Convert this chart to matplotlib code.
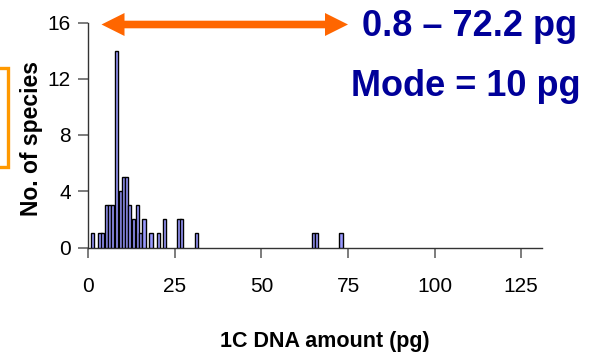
import matplotlib.pyplot as plt
from matplotlib.patches import Polygon, Rectangle

# genome size bins (pg) and species counts
dna_amount = [1.2, 3.4, 4.2, 5.3, 6.2, 7.0, 8.2, 9.3, 10.2, 11.1, 12.0, 13.1,
              14.2, 15.2, 16.1, 18.1, 20.3, 22.0, 26.2, 27.0, 31.2, 65.1, 65.9, 73.0]
n_species = [1, 1, 1, 3, 3, 3, 14, 4, 5, 5, 3, 2, 3, 1, 2, 1, 1, 2, 2, 2, 1, 1, 1, 1]

x_ticks = [0, 25, 50, 75, 100, 125]
y_ticks = [0, 4, 8, 12, 16]
range_text = "0.8 \u2013 72.2 pg"
mode_text = "Mode = 10 pg"

W, H = 594, 354


def fx(px):
    return px / W


def fy(py):
    # pixel rows measured from the top
    return 1 - py / H


plt.rcParams['font.family'] = 'Liberation Sans'

fig = plt.figure(figsize=(5.94, 3.54), dpi=100)
ax = fig.add_axes([fx(87.5), fy(247.5), fx(542) - fx(87.5), fy(22.5) - fy(247.5)])

ax.bar(dna_amount, n_species, width=0.95, color='#9999FF', edgecolor='black',
       linewidth=1.0, zorder=3)

ax.set_xlim(-0.2, 131)
ax.set_ylim(0, 16)
ax.set_xticks(x_ticks)
ax.set_yticks(y_ticks)
for s in ['top', 'right']:
    ax.spines[s].set_visible(False)
for s in ['left', 'bottom']:
    ax.spines[s].set_color('#333333')
    ax.spines[s].set_linewidth(1.0)
ax.tick_params(direction='out', length=7, width=1.2, color='#666666',
               labelsize=15, pad=5)
ax.tick_params(axis='x', pad=14)

fig.text(fx(325), fy(341), '1C DNA amount (pg)', fontsize=15.5,
         fontweight='bold', ha='center', va='center')
fig.text(fx(32), fy(139), 'No. of species', rotation=90, fontsize=16.5,
         fontweight='bold', ha='center', va='center')

# double-headed range arrow
x0, x1, yc = 101.5, 348, 24.5
hl, hw, tw = 23, 11.5, 3.8
pts = [(x0, yc), (x0 + hl, yc - hw), (x0 + hl, yc - tw), (x1 - hl, yc - tw),
       (x1 - hl, yc - hw), (x1, yc), (x1 - hl, yc + hw), (x1 - hl, yc + tw),
       (x0 + hl, yc + tw), (x0 + hl, yc + hw)]
fig.add_artist(Polygon([(fx(a), fy(b)) for a, b in pts], closed=True,
                       facecolor='#FF6600', edgecolor='none',
                       transform=fig.transFigure))

# orange box edge on the left
fig.add_artist(Rectangle((fx(-20), fy(167)), fx(28), fy(68) - fy(167),
                         facecolor='none', edgecolor='#FF9900', linewidth=2.4,
                         transform=fig.transFigure))

fig.text(fx(470), fy(27), range_text, fontsize=26, fontweight='bold',
         color='#000099', ha='center', va='center')
fig.text(fx(466), fy(86), mode_text, fontsize=26, fontweight='bold',
         color='#000099', ha='center', va='center')

fig.savefig('out.png', dpi=100)
